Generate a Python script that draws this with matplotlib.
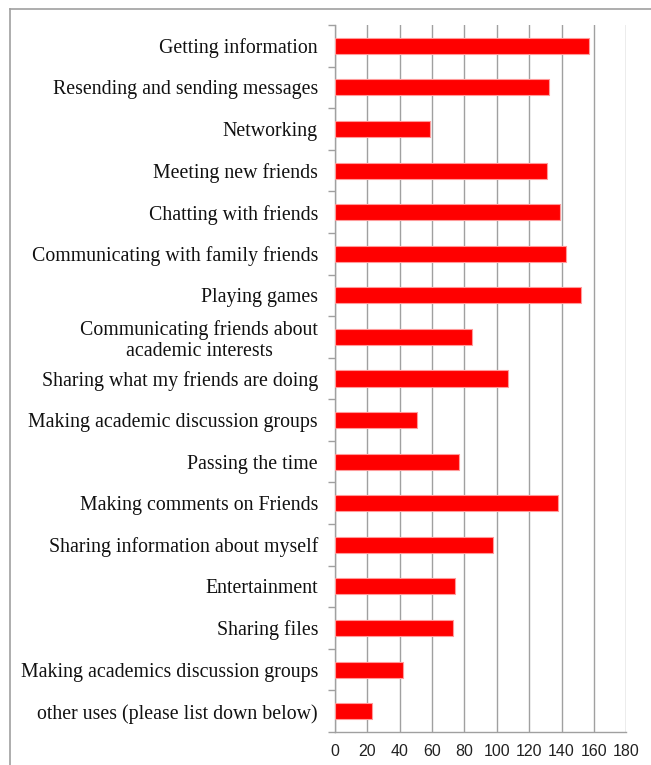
import matplotlib
matplotlib.use("Agg")
import matplotlib.pyplot as plt
from matplotlib.lines import Line2D
import numpy as np

categories = [
    "Getting information",
    "Resending and sending messages",
    "Networking",
    "Meeting new friends",
    "Chatting with friends",
    "Communicating with family friends",
    "Playing games",
    "Communicating friends about\nacademic interests",
    "Sharing what my friends are doing",
    "Making academic discussion groups",
    "Passing the time",
    "Making comments on Friends",
    "Sharing information about myself",
    "Entertainment",
    "Sharing files",
    "Making academics discussion groups",
    "other uses (please list down below)",
]
values = [157, 132, 59, 131, 139, 143, 152, 85, 107, 51, 77, 138, 98, 74, 73, 42, 23]
xticks = [0, 20, 40, 60, 80, 100, 120, 140, 160, 180]

W, H = 651, 765
fig = plt.figure(figsize=(W / 100, H / 100), dpi=100)
ax = fig.add_axes([334.7 / W, 1 - 732 / H, (626.3 - 334.7) / W, (732 - 25) / H])

n = len(categories)
y = np.arange(n)
ax.barh(y, values, height=0.385, color="#ff0000", edgecolor="#ff9a9a", linewidth=0.8, zorder=3)

ax.set_ylim(n - 0.5, -0.5)
ax.set_xlim(0, 180)
ax.set_xticks(xticks)
ax.set_xticklabels([str(t) for t in xticks], fontfamily="Liberation Sans", fontsize=11.5, color="#222222")
ax.tick_params(axis="x", length=0, pad=8.5)

ax.set_yticks(y)
ax.set_yticklabels(categories, fontfamily="Liberation Serif", fontsize=14.3, color="#111111")
ax.tick_params(axis="y", which="major", length=0, pad=12)
ax.set_yticks(np.arange(n + 1) - 0.5, minor=True)
ax.tick_params(axis="y", which="minor", length=5, width=1, color="#a0a0a0", direction="out")
for lab in ax.get_yticklabels():
    lab.set_multialignment("center")
    lab.set_linespacing(1.15)

ax.grid(axis="x", color="#a0a0a0", linewidth=1, zorder=0)
ax.set_axisbelow(True)
for s in ["top", "right"]:
    ax.spines[s].set_visible(False)
for s in ["left", "bottom"]:
    ax.spines[s].set_color("#a0a0a0")
    ax.spines[s].set_linewidth(1)

# outer chart border (top and left visible)
fig.add_artist(Line2D([10 / W, 1.0], [1 - 9 / H, 1 - 9 / H], color="#a0a0a0", linewidth=1.2, transform=fig.transFigure))
fig.add_artist(Line2D([10 / W, 10 / W], [0, 1 - 9 / H], color="#a0a0a0", linewidth=1.2, transform=fig.transFigure))

fig.savefig("out.png", dpi=100)
